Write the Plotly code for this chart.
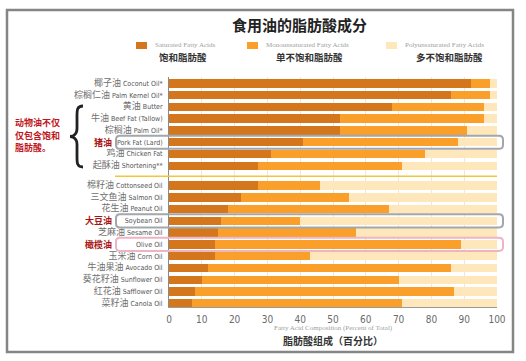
import plotly.graph_objects as go

# ---------------- data ----------------
oils_cn = ["椰子油", "棕榈仁油", "黄油", "牛油", "棕榈油", "猪油", "鸡油", "起酥油",
           "棉籽油", "三文鱼油", "花生油", "大豆油", "芝麻油", "橄榄油", "玉米油",
           "牛油果油", "葵花籽油", "红花油", "菜籽油"]
oils_en = ["Coconut Oil*", "Palm Kernel Oil*", "Butter", "Beef Fat (Tallow)", "Palm Oil*",
           "Pork Fat (Lard)", "Chicken Fat", "Shortening**", "Cottonseed Oil", "Salmon Oil",
           "Peanut Oil", "Soybean Oil", "Sesame Oil", "Olive Oil", "Corn Oil", "Avocado Oil",
           "Sunflower Oil", "Safflower Oil", "Canola Oil"]
saturated = [92, 86, 68, 52, 52, 41, 31, 27, 27, 22, 18, 16, 15, 14, 14, 12, 10, 8, 7]
monounsat = [6, 12, 28, 44, 39, 47, 47, 44, 19, 33, 49, 24, 42, 75, 29, 74, 60, 79, 64]
polyunsat = [2, 2, 4, 4, 9, 12, 22, 29, 54, 45, 33, 60, 43, 11, 57, 14, 30, 13, 29]
x_ticks = [0, 10, 20, 30, 40, 50, 60, 70, 80, 90, 100]
highlight = {"Pork Fat (Lard)": "#a3a7ab", "Soybean Oil": "#a3a7ab", "Olive Oil": "#efb4c4"}
group_split = 8          # first 8 rows: animal / tropical fats
group_gap = 0.667
note_lines = ["动物油不仅", "仅包含饱和", "脂肪酸。"]

series_names = ["Saturated Fatty Acids", "Monounsaturated Fatty Acids", "Polyunsaturated Fatty Acids"]
series_cn = ["饱和脂肪酸", "单不饱和脂肪酸", "多不饱和脂肪酸"]
colors = ["#d4771c", "#f99f2a", "#fde7bb"]

# ---------------- layout helpers ----------------
W, H = 526, 361
ML, MR, MT, MB = 169, 29, 77, 54
PW, PH = W - ML - MR, H - MT - MB


def px(x):
    return (x - ML) / PW


def py(y):
    return 1 - (y - MT) / PH


ypos = [i if i < group_split else i + group_gap for i in range(len(oils_en))]

CN_FONT = "Noto Sans CJK SC"
EN_FONT = "DejaVu Sans Condensed, Roboto, sans-serif"

ticktext = []
for cn, en in zip(oils_cn, oils_en):
    if en in highlight:
        ticktext.append(en)
    else:
        ticktext.append(f"<span style='font-family:{CN_FONT};font-size:9px;color:#707070'>{cn}</span> {en}")

fig = go.Figure()
for name, vals, col in zip(series_names, [saturated, monounsat, polyunsat], colors):
    fig.add_trace(go.Bar(
        y=ypos, x=vals, orientation="h", name=name,
        marker=dict(color=col, line=dict(width=0)), width=0.72,
        showlegend=False, hovertemplate="%{x}%<extra>" + name + "</extra>"))

shapes = []
annotations = []

# outer frame
shapes.append(dict(type="rect", xref="paper", yref="paper",
                   x0=px(7), x1=px(513), y0=py(352), y1=py(10),
                   line=dict(color="#858585", width=2.5), layer="below"))

# title
annotations.append(dict(text="<b>食用油的脂肪酸成分</b>", xref="paper", yref="paper",
                        x=px(299), y=py(24), showarrow=False, xanchor="center", yanchor="middle",
                        font=dict(family=CN_FONT, size=15, color="#222")))

# custom legend
sw_x = [136, 247, 386]
cn_cx = [183, 309, 449]
for i in range(3):
    shapes.append(dict(type="rect", xref="paper", yref="paper",
                       x0=px(sw_x[i]), x1=px(sw_x[i] + 11), y0=py(49), y1=py(42),
                       fillcolor=colors[i], line=dict(width=0)))
    annotations.append(dict(text=series_names[i], xref="paper", yref="paper",
                            x=px(sw_x[i] + 17), y=py(44.5), showarrow=False,
                            xanchor="left", yanchor="middle",
                            font=dict(family="Liberation Serif", size=7, color="#a0a0a0")))
    annotations.append(dict(text="<b>" + series_cn[i] + "</b>", xref="paper", yref="paper",
                            x=px(cn_cx[i]), y=py(57), showarrow=False,
                            xanchor="center", yanchor="middle",
                            font=dict(family=CN_FONT, size=9.5, color="#333")))

# separator line between groups
sep_y = (group_split - 1 + group_split + group_gap) / 2 + 0.05
shapes.append(dict(type="line", xref="paper", yref="y", x0=px(115), x1=1.0,
                   y0=sep_y, y1=sep_y, line=dict(color="#f3c53a", width=1.5)))

# highlight boxes (rounded) + red Chinese labels
for i, en in enumerate(oils_en):
    if en in highlight:
        yc = ypos[i]
        x0, x1 = px(116), px(503)
        y0, y1 = yc - 0.56, yc + 0.56
        rx, ry = 4 / PW, 0.33
        path = (f"M {x0+rx},{y0} L {x1-rx},{y0} Q {x1},{y0} {x1},{y0+ry} "
                f"L {x1},{y1-ry} Q {x1},{y1} {x1-rx},{y1} L {x0+rx},{y1} "
                f"Q {x0},{y1} {x0},{y1-ry} L {x0},{y0+ry} Q {x0},{y0} {x0+rx},{y0} Z")
        shapes.append(dict(type="path", xref="paper", yref="y", path=path,
                           line=dict(color=highlight[en], width=2), layer="above"))
        annotations.append(dict(text="<b>" + oils_cn[i] + "</b>", xref="paper", yref="y",
                                x=px(114), y=yc, showarrow=False, xanchor="right",
                                yanchor="middle",
                                font=dict(family=CN_FONT, size=9, color="#a81414")))

# curly brace + red note
bx, tip = 80, 70
yt, yb, ym = 106, 167, 136.5
brace = (f"M {px(bx+3)},{py(yt)} C {px(bx-3)},{py(yt)} {px(bx-3)},{py(yt+4)} {px(bx-3)},{py(yt+10)} "
         f"L {px(bx-3)},{py(ym-8)} C {px(bx-3)},{py(ym-2)} {px(tip+3)},{py(ym)} {px(tip)},{py(ym)} "
         f"C {px(tip+3)},{py(ym)} {px(bx-3)},{py(ym+2)} {px(bx-3)},{py(ym+8)} "
         f"L {px(bx-3)},{py(yb-10)} C {px(bx-3)},{py(yb-4)} {px(bx-3)},{py(yb)} {px(bx+3)},{py(yb)}")
shapes.append(dict(type="path", xref="paper", yref="paper", path=brace,
                   line=dict(color="#222", width=2.8)))
for k, line in enumerate(note_lines):
    annotations.append(dict(text="<b>" + line + "</b>", xref="paper", yref="paper",
                            x=px(13), y=py(122.5 + 12.5 * k), showarrow=False,
                            xanchor="left", yanchor="middle",
                            font=dict(family=CN_FONT, size=9, color="#c0171c")))

# x-axis titles
annotations.append(dict(text="Fatty Acid Composition (Percent of Total)", xref="paper", yref="paper",
                        x=0.5, y=py(328), showarrow=False, xanchor="center", yanchor="middle",
                        font=dict(family="Liberation Serif", size=7, color="#a0a0a0")))
annotations.append(dict(text="<b>脂肪酸组成（百分比）</b>", xref="paper", yref="paper",
                        x=0.5, y=py(340), showarrow=False, xanchor="center", yanchor="middle",
                        font=dict(family=CN_FONT, size=10, color="#333")))

fig.update_layout(
    width=W, height=H, barmode="stack", bargap=0,
    margin=dict(l=ML, r=MR, t=MT, b=MB, pad=0),
    paper_bgcolor="white", plot_bgcolor="white",
    shapes=shapes, annotations=annotations,
    xaxis=dict(range=[0, 100], tickvals=x_ticks, showgrid=True, gridcolor="#ede7dc", gridwidth=1,
               showline=True, linecolor="#9a9a9a", linewidth=1, zeroline=False, automargin=False,
               ticks="outside", ticklen=3, tickcolor="rgba(0,0,0,0)",
               tickfont=dict(family=EN_FONT, size=10, color="#6a6a6a"), fixedrange=True),
    yaxis=dict(range=[ypos[-1] + 0.31, -0.535], tickvals=ypos, ticktext=ticktext,
               showgrid=False, zeroline=False, showline=True, linecolor="#8a8a8a", linewidth=1,
               automargin=False,
               ticks="outside", ticklen=4, tickcolor="rgba(0,0,0,0)",
               tickfont=dict(family=EN_FONT, size=7, color="#555"), fixedrange=True),
    font=dict(family=CN_FONT),
)

fig.write_html("out.html", config={"displayModeBar": False},
               post_script="document.body.style.margin='0';")
